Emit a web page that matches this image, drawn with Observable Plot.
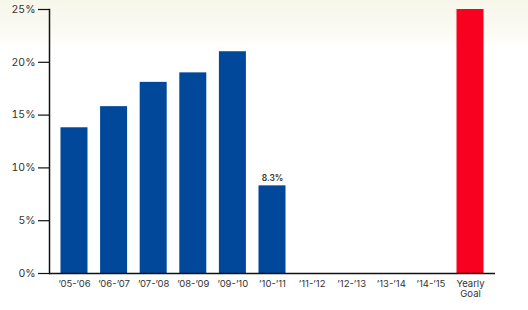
<!DOCTYPE html>
<html>
<head>
<meta charset="utf-8">
<script src="https://cdn.jsdelivr.net/npm/d3@7"></script>
<script src="https://cdn.jsdelivr.net/npm/@observablehq/plot@0.6"></script>
<style>
  html, body { margin: 0; padding: 0; }
  body {
    width: 528px; height: 310px; overflow: hidden;
    background: linear-gradient(to bottom, #f7f6ea 0px, #fbfaf3 30px, #ffffff 50px, #ffffff 100%);
    font-family: Inter, "Open Sans", sans-serif;
  }
  svg { display: block; }
</style>
</head>
<body>
<div id="chart"></div>
<script>
const seasons = ["’05-’06", "’06-’07", "’07-’08", "’08-’09", "’09-’10", "’10-’11", "’11-’12", "’12-’13", "’13-’14", "’14-’15", "Yearly\nGoal"];
const values = [13.8, 15.8, 18.1, 19.0, 21.0, 8.3, null, null, null, null, 25];
const yTicks = [0, 5, 10, 15, 20, 25];
const goalLabel = "Yearly\nGoal";
const labeledSeason = "’10-’11";

const data = seasons.map((s, i) => ({season: s, value: values[i], goal: s === goalLabel}));

const chart = Plot.plot({
  width: 528,
  height: 310,
  marginTop: 9,
  marginBottom: 37,
  marginLeft: 49,
  marginRight: 33,
  style: {background: "transparent", fontFamily: "Inter, 'Open Sans', sans-serif", color: "#333"},
  x: {domain: seasons, paddingInner: 0.318, paddingOuter: 0.29, round: false, label: null},
  y: {domain: [0, 25], label: null},
  marks: [
    Plot.barY(data.filter(d => d.value != null), {
      x: "season", y: "value",
      fill: d => d.goal ? "#f8001f" : "#02489a"
    }),
    Plot.text(data.filter(d => d.season === labeledSeason), {
      x: "season", y: "value", text: d => d.value + "%",
      dy: -8, fontSize: 8.5, fontWeight: 600, fill: "#333"
    }),
    Plot.axisY({ticks: yTicks, tickFormat: d => d + "%", tickSize: 11, tickPadding: 3, fontSize: 10.5, label: null, stroke: "#111", strokeWidth: 1.2}),
    Plot.axisX({tickSize: 0, tickPadding: 6, fontSize: 9.5, label: null, lineHeight: 1.05}),
    Plot.ruleY([0], {stroke: "#111", strokeWidth: 1.5}),
    Plot.frame({anchor: "left", stroke: "#111", strokeWidth: 1.5})
  ]
});
document.getElementById("chart").append(chart);
</script>
</body>
</html>
